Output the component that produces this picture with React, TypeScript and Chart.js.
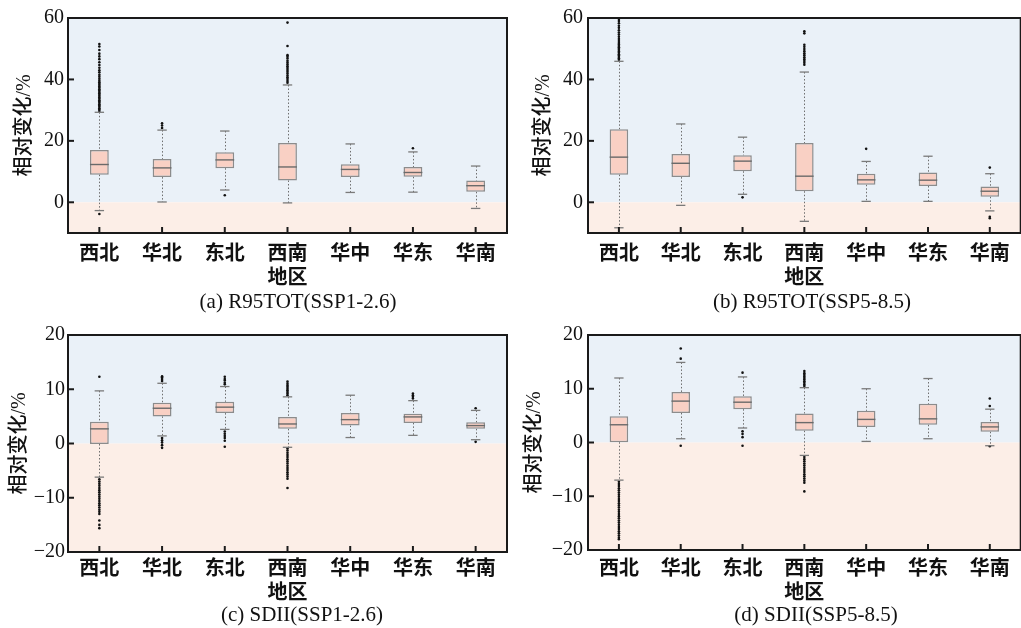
import React, { useEffect, useRef } from 'react';
import { Chart, registerables } from 'chart.js';

Chart.register(...registerables);

// ---------- data ----------
const regions = ['西北', '华北', '东北', '西南', '华中', '华东', '华南'];
const ticksR95 = [0, 20, 40, 60];
const ticksSDII = [-20, -10, 0, 10, 20];

// (a) R95TOT SSP1-2.6
const aLow = [-2.7, 0.1, 4.0, -0.2, 3.2, 3.3, -2.0];
const aQ1 = [9.0, 8.2, 11.1, 7.1, 8.2, 8.3, 3.4];
const aMed = [12.3, 11.2, 13.8, 11.5, 10.7, 9.7, 5.4];
const aQ3 = [17.0, 14.1, 16.3, 19.3, 12.4, 11.5, 7.1];
const aHigh = [29.3, 23.5, 23.2, 38.2, 19.0, 16.4, 11.8];
const aOut = [
  [29.7, 30.2, 30.6, 31.1, 31.5, 31.9, 32.4, 32.8, 33.2, 33.7, 34.1, 34.6, 35.0, 35.5, 35.9, 36.4, 36.8, 37.3, 37.7, 38.2, 38.6, 39.1, 39.6, 40.2, 40.9, 41.5, 42.3, 43.0, 43.8, 44.7, 45.6, 46.6, 47.5, 48.4, 49.6, 50.7, 51.5, -3.8],
  [24.2, 25.0, 25.7],
  [2.3],
  [38.9, 39.5, 40.1, 40.7, 41.3, 41.9, 42.5, 43.1, 43.7, 44.3, 44.9, 45.5, 46.1, 46.8, 47.4, 47.9, 50.9, 58.5],
  [],
  [17.6],
  [],
];

// (b) R95TOT SSP5-8.5
const bLow = [-8.3, -1.0, 2.6, -6.2, 0.3, 0.3, -2.8];
const bQ1 = [9.0, 8.2, 10.1, 3.6, 5.7, 5.3, 1.8];
const bMed = [14.7, 12.7, 13.4, 8.5, 7.3, 7.2, 3.6];
const bQ3 = [23.8, 15.7, 15.3, 19.3, 9.3, 9.7, 5.1];
const bHigh = [45.9, 25.5, 21.2, 42.4, 13.3, 15.0, 9.3];
const bOut = [
  [46.4, 46.9, 47.3, 47.8, 48.2, 48.7, 49.1, 49.6, 50.0, 50.5, 50.9, 51.4, 51.9, 52.5, 53.2, 53.9, 54.6, 55.3, 56.0, 56.8, 57.5, 58.3, 59.0, 59.7],
  [],
  [1.6],
  [44.8, 45.4, 46.0, 46.6, 47.2, 47.9, 48.5, 49.2, 49.9, 50.6, 51.3, 55.0, 55.7],
  [17.4],
  [],
  [11.3, -4.7, -5.2],
];

// (c) SDII SSP1-2.6
const cLow = [-6.2, 1.4, 2.6, -0.7, 1.1, 1.5, 0.7];
const cQ1 = [-0.1, 5.0, 5.6, 2.7, 3.3, 3.8, 2.7];
const cMed = [2.7, 6.5, 6.7, 3.6, 4.4, 4.9, 3.3];
const cQ3 = [4.0, 7.5, 7.7, 4.9, 5.6, 5.5, 3.9];
const cHigh = [9.7, 11.1, 10.5, 8.6, 8.9, 7.9, 6.1];
const cOut = [
  [12.3, -6.6, -7.0, -7.4, -7.8, -8.2, -8.6, -9.0, -9.4, -9.8, -10.2, -10.6, -11.0, -11.4, -11.8, -12.2, -12.6, -13.0, -14.2, -15.0, -15.6],
  [11.5, 11.9, 12.2, 12.4, 1.0, 0.6, 0.2, -0.3, -0.8],
  [10.9, 11.2, 11.6, 11.9, 12.3, 2.2, 1.8, 1.4, 1.0, 0.5, -0.6],
  [8.9, 9.2, 9.5, 9.8, 10.1, 10.4, 10.7, 11.0, 11.4, -0.9, -1.3, -1.7, -2.1, -2.5, -2.9, -3.3, -3.7, -4.1, -4.5, -4.9, -5.3, -5.7, -6.1, -6.5, -8.2],
  [],
  [8.3, 8.6, 8.9, 9.2],
  [6.5, 0.3],
];

// (d) SDII SSP5-8.5
const dLow = [-7.0, 0.7, 2.7, -2.4, 0.2, 0.7, -0.6];
const dQ1 = [0.05, 5.5, 6.2, 2.2, 2.9, 3.3, 2.0];
const dMed = [3.3, 7.7, 7.5, 3.7, 4.3, 4.4, 2.9];
const dQ3 = [4.9, 9.4, 8.6, 5.4, 5.9, 7.2, 3.8];
const dHigh = [12.0, 14.9, 12.2, 10.2, 10.0, 11.9, 6.2];
const dOut = [
  [-7.3, -7.7, -8.1, -8.5, -8.9, -9.3, -9.7, -10.1, -10.5, -10.9, -11.3, -11.7, -12.1, -12.5, -12.9, -13.3, -13.7, -14.1, -14.5, -14.9, -15.3, -15.7, -16.1, -16.5, -16.9, -17.3, -17.7, -18.0],
  [15.6, 17.5, -0.6],
  [13.0, 2.1, 1.6, 1.0, -0.6],
  [10.5, 10.8, 11.1, 11.4, 11.7, 12.0, 12.3, 12.6, 12.9, 13.3, -2.7, -3.1, -3.5, -3.9, -4.3, -4.7, -5.1, -5.5, -5.9, -6.3, -6.7, -7.1, -7.5, -9.1],
  [],
  [],
  [6.8, 8.2, -0.7],
];

// ---------- layout (page coordinates) ----------
type Panel = {
  caption: string;
  low: number[]; q1: number[]; med: number[]; q3: number[]; high: number[]; out: number[][];
  min: number; max: number; ticks: number[];
  cv: { left: number; top: number; w: number; h: number };
  area: { l: number; t: number; r: number; b: number };
  yLabRight: number; yTitleCx: number; xLabCy: number; xTitleCy: number; capCx: number; capCy: number;
};

const panels: Panel[] = [
  {
    caption: '(a) R95TOT(SSP1-2.6)', low: aLow, q1: aQ1, med: aMed, q3: aQ3, high: aHigh, out: aOut,
    min: -10, max: 60, ticks: ticksR95,
    cv: { left: 0, top: 0, w: 510, h: 318 }, area: { l: 68, t: 18, r: 507, b: 233 },
    yLabRight: 64, yTitleCx: 25, xLabCy: 252, xTitleCy: 276, capCx: 298, capCy: 302,
  },
  {
    caption: '(b) R95TOT(SSP5-8.5)', low: bLow, q1: bQ1, med: bMed, q3: bQ3, high: bHigh, out: bOut,
    min: -10, max: 60, ticks: ticksR95,
    cv: { left: 510, top: 0, w: 512, h: 318 }, area: { l: 588, t: 18, r: 1022, b: 233 },
    yLabRight: 583, yTitleCx: 544, xLabCy: 252, xTitleCy: 276, capCx: 812, capCy: 302,
  },
  {
    caption: '(c) SDII(SSP1-2.6)', low: cLow, q1: cQ1, med: cMed, q3: cQ3, high: cHigh, out: cOut,
    min: -20, max: 20, ticks: ticksSDII,
    cv: { left: 0, top: 318, w: 510, h: 310 }, area: { l: 68, t: 335, r: 507, b: 552 },
    yLabRight: 65, yTitleCx: 20, xLabCy: 567.5, xTitleCy: 591.5, capCx: 302, capCy: 615,
  },
  {
    caption: '(d) SDII(SSP5-8.5)', low: dLow, q1: dQ1, med: dMed, q3: dQ3, high: dHigh, out: dOut,
    min: -20, max: 20, ticks: ticksSDII,
    cv: { left: 510, top: 318, w: 512, h: 310 }, area: { l: 588, t: 334, r: 1022, b: 550 },
    yLabRight: 583, yTitleCx: 535, xLabCy: 567.5, xTitleCy: 591, capCx: 816, capCy: 615,
  },
];

const SERIF = "'Liberation Serif', 'Times New Roman', serif";
const CJK = "'Noto Sans CJK SC', sans-serif";

function makeChart(canvas: HTMLCanvasElement, p: Panel) {
  const cl = p.cv.left, ct = p.cv.top;
  const aL = p.area.l - cl, aT = p.area.t - ct, aR = p.area.r - cl, aB = p.area.b - ct;
  const capCy = p.capCy - ct, capCx = p.capCx - cl, xLabCy = p.xLabCy - ct, xTitleCy = p.xTitleCy - ct;
  const lh = 24; // 20px * 1.2
  const xBottom = capCy - 12;
  const padBottom = p.cv.h - xBottom;
  const xHeight = xBottom - aB;
  const xTitlePadBottom = xBottom - xTitleCy - lh / 2;
  const xTickPad = xLabCy - lh / 2 - aB;
  const yWidth = aL;
  const yTickPad = aL - (p.yLabRight - cl);
  const yTitlePadTop = p.yTitleCx - cl - lh / 2;

  const outliers: { x: string; y: number }[] = [];
  p.out.forEach((arr, i) => arr.forEach((v) => outliers.push({ x: regions[i], y: v })));

  const boxPlugin = {
    id: 'boxExtras',
    beforeDatasetsDraw(chart: any) {
      const { ctx, chartArea: ca, scales } = chart;
      const y0 = scales.y.getPixelForValue(0);
      ctx.save();
      ctx.fillStyle = '#EAF1F8';
      ctx.fillRect(ca.left, ca.top, ca.right - ca.left, y0 - ca.top);
      ctx.fillStyle = '#FCEEE7';
      ctx.fillRect(ca.left, y0, ca.right - ca.left, ca.bottom - y0);
      // whiskers
      ctx.strokeStyle = '#6E6E6E';
      ctx.lineWidth = 1;
      ctx.setLineDash([1.5, 2]);
      regions.forEach((_, i) => {
        const x = Math.round(scales.x.getPixelForValue(i)) + 0.5;
        ctx.beginPath();
        ctx.moveTo(x, scales.y.getPixelForValue(p.high[i]));
        ctx.lineTo(x, scales.y.getPixelForValue(p.q3[i]));
        ctx.moveTo(x, scales.y.getPixelForValue(p.q1[i]));
        ctx.lineTo(x, scales.y.getPixelForValue(p.low[i]));
        ctx.stroke();
      });
      ctx.restore();
    },
    afterDatasetsDraw(chart: any) {
      const { ctx, scales } = chart;
      const meta = chart.getDatasetMeta(0);
      ctx.save();
      regions.forEach((_, i) => {
        const x = scales.x.getPixelForValue(i);
        const bw = meta.data[i] ? meta.data[i].width : 19;
        // median
        ctx.strokeStyle = '#6A6A6A';
        ctx.lineWidth = 1.4;
        const ym = scales.y.getPixelForValue(p.med[i]);
        ctx.beginPath();
        ctx.moveTo(x - bw / 2, ym);
        ctx.lineTo(x + bw / 2, ym);
        ctx.stroke();
        // caps
        ctx.strokeStyle = '#7A7A7A';
        ctx.lineWidth = 1.3;
        const cw = bw * 0.5;
        [p.high[i], p.low[i]].forEach((v) => {
          const yy = scales.y.getPixelForValue(v);
          ctx.beginPath();
          ctx.moveTo(x - cw / 2, yy);
          ctx.lineTo(x + cw / 2, yy);
          ctx.stroke();
        });
      });
      ctx.restore();
    },
    afterDraw(chart: any) {
      const { ctx, chartArea: ca, scales } = chart;
      ctx.save();
      ctx.strokeStyle = '#1A1A1A';
      ctx.lineWidth = 2;
      ctx.strokeRect(ca.left, ca.top, ca.right - ca.left, ca.bottom - ca.top);
      p.ticks.forEach((v) => {
        const yy = scales.y.getPixelForValue(v);
        ctx.beginPath();
        ctx.moveTo(ca.left, yy);
        ctx.lineTo(ca.left + 6, yy);
        ctx.stroke();
      });
      regions.forEach((_, i) => {
        const x = scales.x.getPixelForValue(i);
        ctx.beginPath();
        ctx.moveTo(x, ca.bottom);
        ctx.lineTo(x, ca.bottom - 6);
        ctx.stroke();
      });
      // caption
      ctx.fillStyle = '#111';
      ctx.font = "normal 21px " + SERIF;
      ctx.textAlign = 'center';
      ctx.textBaseline = 'middle';
      ctx.fillText(p.caption, capCx, capCy);
      ctx.restore();
    },
  };

  return new Chart(canvas, {
    type: 'bar',
    data: {
      labels: regions,
      datasets: [
        {
          type: 'bar',
          data: regions.map((_, i) => [p.q1[i], p.q3[i]]) as any,
          backgroundColor: '#F9D0C4',
          borderColor: '#8C8C8C',
          borderWidth: 1.5,
          borderSkipped: false,
          barPercentage: 0.3,
          categoryPercentage: 1,
          order: 2,
        } as any,
        {
          type: 'scatter',
          data: outliers as any,
          pointRadius: 1.3,
          pointBackgroundColor: '#111',
          pointBorderWidth: 0,
          pointHoverRadius: 1.3,
          order: 1,
        } as any,
      ],
    },
    options: {
      animation: false,
      responsive: false,
      events: [],
      layout: { padding: { left: 0, top: aT, right: p.cv.w - aR, bottom: padBottom } },
      plugins: {
        legend: { display: false },
        tooltip: { enabled: false },
        title: { display: false },
      },
      scales: {
        x: {
          type: 'category',
          offset: true,
          grid: { display: false, drawTicks: false },
          border: { display: false },
          ticks: {
            color: '#111',
            padding: xTickPad,
            maxRotation: 0,
            autoSkip: false,
            font: { family: CJK, size: 20, weight: 'bold', lineHeight: 1.2 },
          },
          title: {
            display: true,
            text: '地区',
            color: '#111',
            font: { family: CJK, size: 20, weight: 'bold', lineHeight: 1.2 },
            padding: { top: 0, bottom: xTitlePadBottom },
          },
          afterFit: (s: any) => { s.height = xHeight; },
        },
        y: {
          type: 'linear',
          min: p.min,
          max: p.max,
          grid: { display: false, drawTicks: false },
          border: { display: false },
          afterBuildTicks: (s: any) => { s.ticks = p.ticks.map((v) => ({ value: v })); },
          ticks: {
            color: '#111',
            padding: yTickPad,
            font: { family: SERIF, size: 20, lineHeight: 1.2 },
            callback: (v: any) => (Number(v) < 0 ? '\u2212' + Math.abs(Number(v)) : String(v)),
          },
          title: {
            display: true,
            text: '相对变化/%',
            color: '#111',
            font: { family: SERIF + ", 'Noto Sans CJK SC'", size: 20, weight: '500', lineHeight: 1.2 },
            padding: { top: yTitlePadTop, bottom: 0 },
          },
          afterFit: (s: any) => { s.width = yWidth; },
        },
      },
    },
    plugins: [boxPlugin as any],
  });
}

function PanelChart({ p }: { p: Panel }) {
  const ref = useRef<HTMLCanvasElement | null>(null);
  useEffect(() => {
    if (!ref.current) return;
    const c = makeChart(ref.current, p);
    return () => c.destroy();
  }, [p]);
  return (
    <canvas
      ref={ref}
      width={p.cv.w}
      height={p.cv.h}
      style={{ position: 'absolute', left: p.cv.left, top: p.cv.top, width: p.cv.w, height: p.cv.h }}
    />
  );
}

export default function App() {
  return (
    <div style={{ position: 'fixed', left: 0, top: 0, width: 1021, height: 628, overflow: 'hidden', background: '#fff' }}>
      {panels.map((p, i) => (
        <PanelChart key={i} p={p} />
      ))}
    </div>
  );
}
